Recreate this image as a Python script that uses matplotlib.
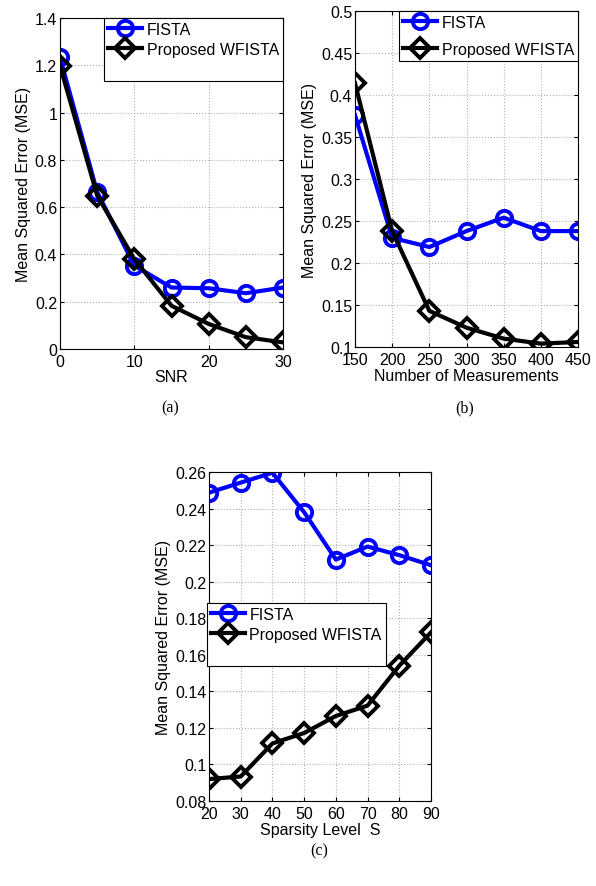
import matplotlib
matplotlib.use("Agg")
import matplotlib.pyplot as plt
from matplotlib.lines import Line2D

# (a) MSE vs SNR
snr = [0, 5, 10, 15, 20, 25, 30]
snr_fista = [1.233, 0.664, 0.353, 0.260, 0.257, 0.236, 0.260]
snr_wfista = [1.198, 0.649, 0.380, 0.183, 0.106, 0.050, 0.028]

# (b) MSE vs number of measurements
meas = [150, 200, 250, 300, 350, 400, 450]
meas_fista = [0.376, 0.230, 0.219, 0.238, 0.254, 0.238, 0.238]
meas_wfista = [0.414, 0.238, 0.143, 0.123, 0.110, 0.104, 0.106]

# (c) MSE vs sparsity level
spars = [20, 30, 40, 50, 60, 70, 80, 90]
spars_fista = [0.2487, 0.2542, 0.2596, 0.2380, 0.2121, 0.2192, 0.2145, 0.2090]
spars_wfista = [0.0920, 0.0934, 0.1115, 0.1172, 0.1265, 0.1322, 0.1540, 0.1723]

labels = ["FISTA", "Proposed WFISTA"]

plt.rcParams["font.family"] = ["Liberation Sans", "DejaVu Sans"]

W, H = 596, 887
fig = plt.figure(figsize=(W / 100, H / 100), dpi=100)


def add_ax(l, t, r, b):
    return fig.add_axes([l / W, 1 - b / H, (r - l) / W, (b - t) / H])


def style(ax):
    ax.grid(True, color="#b0b0b0", ls=":", lw=0.8)
    ax.tick_params(direction="in", top=True, right=True, labelsize=11.5,
                   length=3, pad=2)
    ax.tick_params(axis="x", pad=3.5)
    for s in ax.spines.values():
        s.set_linewidth(0.8)


def draw(ax, x, y1, y2):
    ax.plot(x, y1, color="#0000ff", lw=3, marker="o", ms=11, mfc="none",
            mew=2.8)
    ax.plot(x, y2, color="black", lw=3, marker="D", ms=10, mfc="none",
            mew=2.8)


def legend(ax, loc, blank=False, spacing=0.3):
    handles = [
        Line2D([0], [0], color="#0000ff", lw=3, marker="o", ms=11, mfc="none", mew=2.8),
        Line2D([0], [0], color="black", lw=3, marker="D", ms=10, mfc="none", mew=2.8),
    ]
    labs = list(labels)
    if blank:
        handles.append(Line2D([0], [0], color="none"))
        labs.append(" ")
    lg = ax.legend(handles, labs, loc=loc, fontsize=11.5, fancybox=False,
                   framealpha=1, edgecolor="black", handlelength=2.1,
                   handletextpad=0.3, borderpad=0.25, labelspacing=spacing,
                   borderaxespad=0)
    lg.get_frame().set_linewidth(0.8)
    return lg


# panel (a)
ax1 = add_ax(60, 19, 283, 350)
draw(ax1, snr, snr_fista, snr_wfista)
ax1.set_xlim(0, 30)
ax1.set_ylim(0, 1.4)
ax1.set_xticks([0, 10, 20, 30])
ax1.set_yticks([0, 0.2, 0.4, 0.6, 0.8, 1.0, 1.2, 1.4])
ax1.set_yticklabels(["0", "0.2", "0.4", "0.6", "0.8", "1", "1.2", "1.4"])
ax1.set_xlabel("SNR", fontsize=11.5, labelpad=0)
ax1.set_ylabel("Mean Squared Error (MSE)", fontsize=11.5, labelpad=3)
style(ax1)
legend(ax1, "upper right", blank=True)

# panel (b)
ax2 = add_ax(355, 12, 578, 348)
draw(ax2, meas, meas_fista, meas_wfista)
ax2.set_xlim(150, 450)
ax2.set_ylim(0.1, 0.5)
ax2.set_xticks(meas)
ax2.set_yticks([0.1, 0.15, 0.2, 0.25, 0.3, 0.35, 0.4, 0.45, 0.5])
ax2.set_yticklabels(["0.1", "0.15", "0.2", "0.25", "0.3", "0.35", "0.4", "0.45", "0.5"])
ax2.set_xlabel("Number of Measurements", fontsize=11.5, labelpad=0.5)
ax2.set_ylabel("Mean Squared Error (MSE)", fontsize=11.5, labelpad=3)
style(ax2)
legend(ax2, "upper right", spacing=0.75)

# panel (c)
ax3 = add_ax(209, 473, 431, 802)
draw(ax3, spars, spars_fista, spars_wfista)
ax3.set_xlim(20, 90)
ax3.set_ylim(0.08, 0.26)
ax3.set_xticks(spars)
ax3.set_yticks([0.08, 0.1, 0.12, 0.14, 0.16, 0.18, 0.2, 0.22, 0.24, 0.26])
ax3.set_yticklabels(["0.08", "0.1", "0.12", "0.14", "0.16", "0.18", "0.2",
                     "0.22", "0.24", "0.26"])
ax3.set_xlabel("Sparsity Level  S", fontsize=11.5, labelpad=0.5)
ax3.set_ylabel("Mean Squared Error (MSE)", fontsize=11.5, labelpad=3)
style(ax3)
lg3 = legend(ax3, "upper left", blank=True)
lg3.set_bbox_to_anchor((207 / W, 1 - 604 / H), transform=fig.transFigure)

# sub-captions
for txt, x, y in [("(a)", 170, 408), ("(b)", 465, 408), ("(c)", 319, 851)]:
    fig.text(x / W, 1 - y / H, txt, ha="center", va="center", fontsize=11.5,
             family=["Liberation Serif", "DejaVu Serif"])

fig.savefig("out.png", dpi=100)
